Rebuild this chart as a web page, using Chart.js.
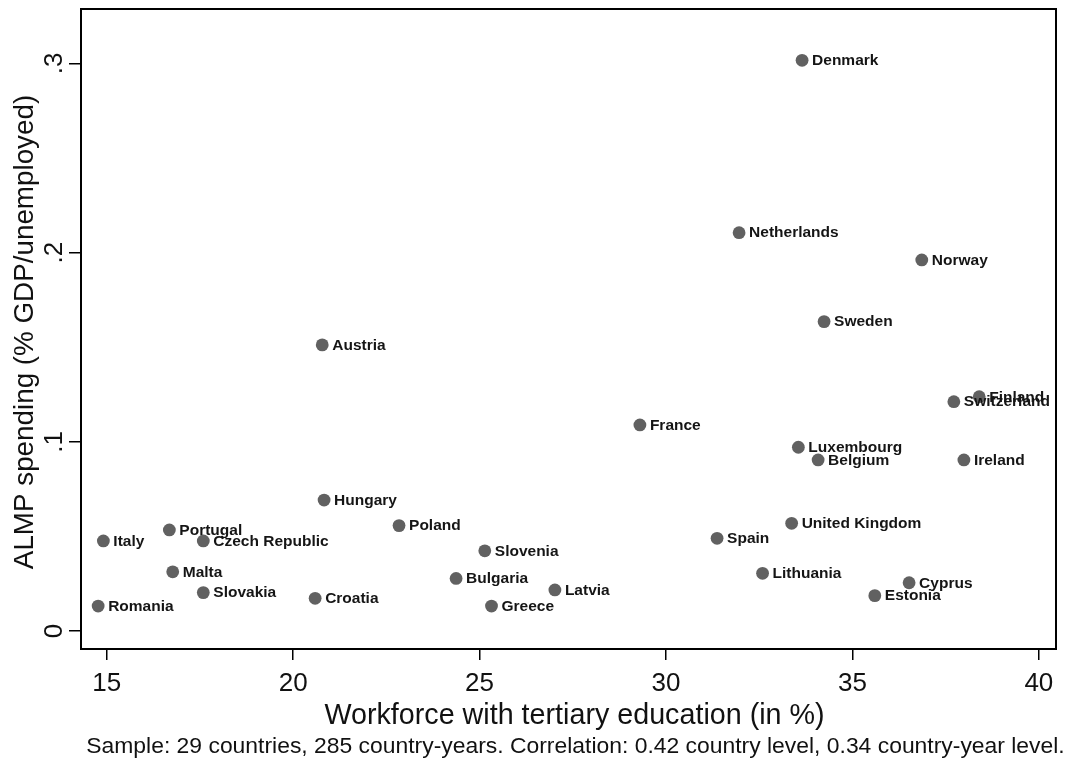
<!DOCTYPE html>
<html>
<head>
<meta charset="utf-8">
<script src="https://cdn.jsdelivr.net/npm/chart.js@4/dist/chart.umd.min.js"></script>
<style>
  html, body { margin: 0; padding: 0; background: #fff; }
  #wrap { width: 1070px; height: 762px; position: relative; }
</style>
</head>
<body>
<div id="wrap"><canvas id="c" width="1070" height="762"></canvas></div>
<script>
// Country averages: share of workforce with tertiary education vs ALMP spending
const countries = [
  'Denmark', 'Netherlands', 'Norway', 'Sweden', 'Austria', 'France',
  'Switzerland', 'Finland', 'Luxembourg', 'Belgium', 'Ireland', 'Hungary',
  'Poland', 'Portugal', 'Italy', 'Czech Republic', 'Slovenia', 'Malta',
  'Bulgaria', 'Latvia', 'Slovakia', 'Croatia', 'Romania', 'Greece',
  'United Kingdom', 'Spain', 'Lithuania', 'Cyprus', 'Estonia'
];
const tertiaryShare = [
  33.65, 31.96, 36.86, 34.24, 20.78, 29.30,
  37.72, 38.40, 33.55, 34.08, 37.99, 20.83,
  22.84, 16.68, 14.91, 17.59, 25.14, 16.77,
  24.37, 27.02, 17.59, 20.59, 14.77, 25.32,
  33.37, 31.37, 32.59, 36.52, 35.60
];
const almpSpending = [
  0.3016, 0.2105, 0.1961, 0.1635, 0.1512, 0.1089,
  0.1212, 0.1238, 0.0971, 0.0904, 0.0904, 0.0692,
  0.0557, 0.0534, 0.0476, 0.0476, 0.0424, 0.0313,
  0.0278, 0.0217, 0.0203, 0.0173, 0.0132, 0.0132,
  0.0569, 0.0490, 0.0305, 0.0255, 0.0187
];

const xTicks = [15, 20, 25, 30, 35, 40];
const xTickLabels = ['15', '20', '25', '30', '35', '40'];
const yTicks = [0, 0.1, 0.2, 0.3];
const yTickLabels = ['0', '.1', '.2', '.3'];

const xTitle = 'Workforce with tertiary education (in %)';
const yTitle = 'ALMP spending (% GDP/unemployed)';
const noteText = 'Sample: 29 countries, 285 country-years. Correlation: 0.42 country level, 0.34 country-year level.';

const FONT = '"Liberation Sans", Arial, Helvetica, sans-serif';
const INK = '#111';

// Country names next to each marker
const pointLabels = {
  id: 'pointLabels',
  afterDatasetsDraw(chart) {
    const ctx = chart.ctx;
    const meta = chart.getDatasetMeta(0);
    ctx.save();
    ctx.font = 'bold 15.5px ' + FONT;
    ctx.fillStyle = '#151515';
    ctx.textAlign = 'left';
    ctx.textBaseline = 'middle';
    meta.data.forEach((el, i) => {
      ctx.fillText(countries[i], el.x + 10, el.y + 0.5);
    });
    ctx.restore();
  }
};

// Frame, tick labels, axis titles and the note underneath
const axisText = {
  id: 'axisText',
  afterDraw(chart) {
    const ctx = chart.ctx;
    const a = chart.chartArea;
    const xs = chart.scales.x, ys = chart.scales.y;
    ctx.save();
    ctx.strokeStyle = '#000';
    ctx.lineWidth = 2;
    ctx.strokeRect(a.left, a.top, a.right - a.left, a.bottom - a.top);

    ctx.fillStyle = INK;
    // x tick labels
    ctx.font = '26px ' + FONT;
    ctx.textAlign = 'center';
    ctx.textBaseline = 'alphabetic';
    xTicks.forEach((v, i) => {
      ctx.fillText(xTickLabels[i], xs.getPixelForValue(v), 691);
    });
    // x title
    ctx.font = '28.7px ' + FONT;
    ctx.fillText(xTitle, (a.left + a.right) / 2 + 6, 724);
    // note
    ctx.font = '22.9px ' + FONT;
    ctx.fillText(noteText, (a.left + a.right) / 2 + 7, 753);

    // y tick labels, rotated
    ctx.font = '26px ' + FONT;
    yTicks.forEach((v, i) => {
      ctx.save();
      ctx.translate(62, ys.getPixelForValue(v));
      ctx.rotate(-Math.PI / 2);
      ctx.fillText(yTickLabels[i], 0, 0);
      ctx.restore();
    });
    // y title
    ctx.save();
    ctx.font = '27.8px ' + FONT;
    ctx.translate(33, (a.top + a.bottom) / 2 + 3);
    ctx.rotate(-Math.PI / 2);
    ctx.fillText(yTitle, 0, 0);
    ctx.restore();
    ctx.restore();
  }
};

new Chart(document.getElementById('c'), {
  type: 'scatter',
  data: {
    datasets: [{
      data: countries.map((c, i) => ({ x: tertiaryShare[i], y: almpSpending[i] })),
      pointRadius: 6.4,
      pointHoverRadius: 6.4,
      backgroundColor: '#616161',
      borderWidth: 0
    }]
  },
  options: {
    responsive: false,
    animation: false,
    devicePixelRatio: 1,
    layout: { padding: { top: 9, right: 14, bottom: 0, left: 0 } },
    plugins: { legend: { display: false }, tooltip: { enabled: false } },
    scales: {
      x: {
        type: 'linear',
        min: 14.31,
        max: 40.46,
        afterBuildTicks: s => { s.ticks = xTicks.map(v => ({ value: v })); },
        afterFit: s => { s.height = 113; },
        ticks: { display: false },
        grid: { display: true, drawOnChartArea: false, drawTicks: true, tickLength: 11, color: '#000', lineWidth: 1.5 },
        border: { display: true, color: '#000', width: 2 }
      },
      y: {
        type: 'linear',
        min: -0.0095,
        max: 0.3287,
        afterBuildTicks: s => { s.ticks = yTicks.map(v => ({ value: v })); },
        afterFit: s => { s.width = 81; },
        ticks: { display: false },
        grid: { display: true, drawOnChartArea: false, drawTicks: true, tickLength: 12, color: '#000', lineWidth: 1.5 },
        border: { display: true, color: '#000', width: 2 }
      }
    }
  },
  plugins: [pointLabels, axisText]
});
</script>
</body>
</html>
